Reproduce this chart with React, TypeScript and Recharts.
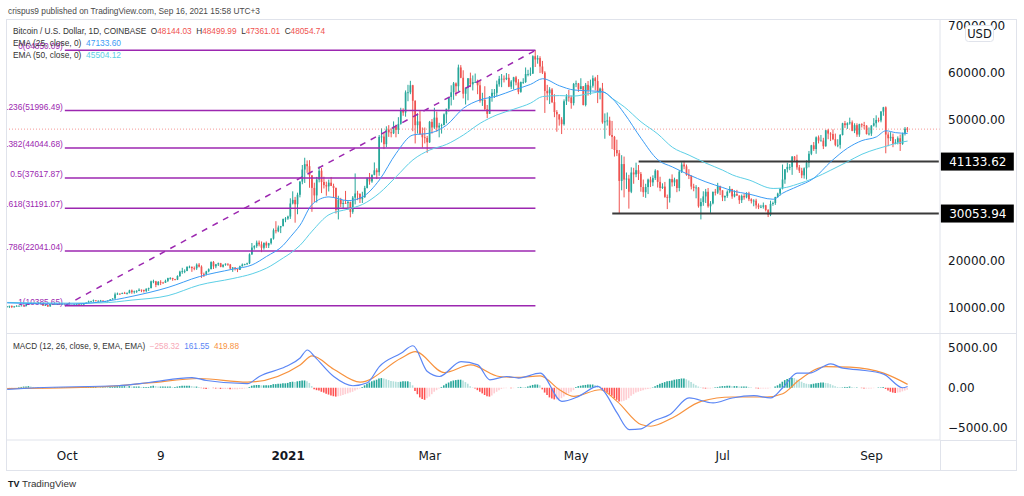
import React from "react";
import {
  Bar,
  Cell,
  ComposedChart,
  Line,
  ReferenceLine,
  XAxis,
  YAxis,
} from "recharts";

// BTC/USD daily candles (Coinbase), Sep 6 2020 .. Sep 16 2021, in thousands of USD
const firstOpenK = 10.1;
const closeK = [
  10.28,10.37,10.13,10.24,10.37,10.40,10.44,10.33,10.68,10.79,10.95,10.94,10.93,11.08,10.92,10.42,10.53,10.24,10.74,10.69,10.73,10.77,10.70,10.84,10.78,
  10.62,10.57,10.55,10.67,10.79,10.60,10.67,10.92,11.06,11.30,11.38,11.54,11.43,11.43,11.50,11.32,11.36,11.50,11.75,11.92,12.82,12.97,12.93,13.12,13.04,13.07,13.65,13.28,13.46,13.56,13.80,
  13.76,13.55,14.03,14.15,15.59,15.59,14.83,15.48,15.33,15.30,15.70,16.28,16.32,16.07,15.96,16.73,17.66,17.78,17.82,18.68,18.71,18.42,18.37,19.16,18.73,17.15,17.14,17.72,18.18,19.70,
  18.79,19.22,19.45,18.70,19.15,19.36,19.17,18.32,18.55,18.26,18.04,18.81,19.17,19.27,19.44,21.35,22.80,23.11,23.85,23.48,22.75,23.82,23.25,23.72,24.71,26.49,26.28,27.08,27.36,28.88,28.98,
  29.41,32.20,32.96,32.03,34.05,36.86,39.43,40.58,40.15,38.19,35.52,33.92,37.31,39.19,36.78,36.11,35.84,36.63,35.94,35.51,30.83,33.01,32.08,32.28,32.26,32.50,30.41,33.45,34.32,34.28,33.11,
  33.54,35.51,37.66,36.90,38.30,39.27,38.87,46.40,46.47,44.84,47.97,47.37,47.17,48.59,47.91,49.16,52.12,51.58,55.89,55.90,57.41,54.09,48.89,49.70,47.02,46.31,46.16,45.24,
  49.60,48.40,50.50,48.40,48.80,48.90,51.20,52.40,54.90,55.90,57.80,57.20,61.20,59.00,55.60,56.90,58.90,57.60,58.10,58.10,57.40,54.10,54.30,52.30,51.30,55.00,55.80,55.80,57.60,58.80,58.80,
  58.70,59.00,57.10,58.20,59.10,58.00,56.00,58.10,58.10,59.80,59.80,59.90,63.60,62.90,63.20,61.40,60.10,56.20,55.70,56.50,53.80,51.70,51.20,50.10,49.10,54.00,55.00,54.80,53.60,57.70,
  57.80,56.60,57.20,53.20,57.50,56.40,57.30,58.90,58.30,55.80,56.70,49.50,49.70,49.90,46.80,46.40,43.60,42.90,37.00,40.60,37.30,37.50,34.70,38.80,38.40,39.30,38.50,35.70,34.60,35.70,37.30,
  36.70,37.60,39.20,36.80,35.50,35.80,33.60,33.40,37.40,36.70,37.30,35.50,39.00,40.50,40.10,38.30,38.10,35.80,35.50,35.60,31.60,32.50,33.70,34.70,31.60,32.20,34.70,34.50,35.90,35.00,
  33.50,33.80,34.70,35.30,33.70,34.20,33.90,32.90,33.80,33.50,34.30,33.10,32.70,32.80,31.80,31.40,31.50,31.80,30.80,29.80,32.10,32.30,33.60,34.30,35.40,37.30,39.50,40.00,40.00,42.20,41.50,
  39.90,39.20,38.20,39.70,40.90,42.80,44.60,43.80,46.30,45.60,45.60,44.40,47.80,47.10,47.00,45.90,44.70,44.70,46.80,49.30,48.90,49.30,49.50,47.70,48.90,46.90,49.10,48.90,48.80,47.00,47.10,
  48.80,49.30,50.00,49.90,51.80,52.70,46.90,46.10,46.40,44.90,45.20,46.10,44.90,47.10,48.14403,48.05474,
];
const highK = [
  10.35,10.40,10.44,10.35,10.50,10.42,10.48,10.58,10.78,10.94,11.10,11.04,11.03,11.18,11.10,10.99,10.56,10.56,10.77,10.76,10.78,10.80,10.95,10.86,10.85,
  10.92,10.67,10.60,10.68,10.80,10.80,10.70,10.94,11.10,11.49,11.43,11.72,11.56,11.56,11.63,11.51,11.40,11.50,11.80,12.00,13.20,13.20,13.02,13.19,13.35,13.25,13.80,13.85,13.62,13.70,14.10,
  13.86,13.82,14.07,14.25,15.75,15.95,15.70,15.65,15.84,15.48,15.96,16.36,16.48,16.35,16.12,16.88,17.86,18.48,18.15,18.80,18.95,18.72,18.77,19.42,19.49,19.00,17.46,17.85,18.35,19.86,
  19.92,19.31,19.59,19.53,19.18,19.41,19.40,19.30,18.64,18.60,18.29,18.94,19.40,19.35,19.57,21.56,23.77,23.30,24.29,24.30,24.10,23.84,24.10,23.80,24.79,26.87,28.42,27.50,27.41,28.99,29.30,
  29.60,33.30,34.79,33.60,34.50,36.94,40.40,41.95,41.38,41.43,38.26,36.63,37.86,40.10,39.75,37.90,36.85,37.30,37.85,36.42,35.60,33.84,33.40,32.94,34.88,32.92,32.60,33.78,38.60,34.90,34.30,
  34.70,35.96,37.70,38.70,38.40,40.95,39.70,46.80,48.20,47.30,48.65,48.90,48.20,49.70,49.00,50.60,52.60,52.50,56.30,57.50,58.35,57.50,54.20,51.40,52.00,48.40,48.40,46.60,
  49.80,50.20,52.60,51.80,49.40,49.20,51.40,52.40,54.90,57.40,58.10,58.00,61.80,61.70,60.60,56.90,58.90,60.10,59.50,59.90,58.60,58.40,55.80,57.20,53.20,55.10,56.60,56.60,58.40,59.40,59.80,
  59.50,60.00,59.80,58.50,59.20,59.40,58.70,58.20,58.90,61.20,60.70,61.20,63.80,64.90,63.80,63.60,62.60,60.40,57.50,57.00,56.80,55.50,52.10,51.20,50.60,54.40,55.50,56.40,55.20,57.90,
  58.40,57.90,58.90,57.20,57.90,58.30,58.60,59.50,59.20,59.60,56.90,57.90,51.40,51.60,50.70,49.80,46.60,45.80,43.60,42.50,42.20,38.80,38.30,39.90,39.80,40.90,40.40,38.90,37.30,36.40,37.50,
  37.90,38.20,39.50,39.30,37.90,36.50,36.80,34.10,37.50,38.40,37.70,37.40,39.30,41.00,41.30,40.50,39.50,38.20,36.40,36.10,35.70,33.30,34.80,35.30,35.50,32.70,34.70,35.30,36.60,36.00,
  35.00,33.90,35.00,35.90,35.30,35.00,35.10,33.90,34.10,34.30,34.60,34.70,33.30,33.10,33.20,32.20,31.90,32.40,31.90,31.00,32.80,32.60,33.60,34.50,35.40,40.50,39.50,40.90,40.60,42.30,42.30,
  42.60,40.40,39.80,39.90,41.40,43.40,44.70,45.30,46.50,46.70,46.80,46.20,47.90,48.10,47.40,48.00,47.10,45.90,47.00,49.40,49.80,49.50,50.50,49.90,49.30,49.30,49.20,49.30,49.60,48.90,48.40,
  48.90,50.40,51.00,50.50,51.90,52.80,52.90,47.40,47.40,47.10,45.90,46.50,46.90,47.30,48.50,48.49999,
];
const lowK = [
  10.00,9.90,9.90,10.00,10.20,10.20,10.30,10.20,10.24,10.64,10.67,10.74,10.80,10.89,10.82,10.36,10.36,10.14,10.20,10.60,10.64,10.60,10.65,10.64,10.67,
  10.50,10.38,10.50,10.50,10.60,10.55,10.59,10.53,10.83,11.02,11.28,11.23,11.33,11.29,11.25,11.24,11.30,11.32,11.40,11.70,11.90,12.71,12.72,12.88,12.90,12.79,13.05,12.94,12.98,13.13,13.50,
  13.29,13.21,13.27,13.54,14.10,15.19,14.35,14.72,14.80,15.10,15.27,15.45,15.96,15.71,15.80,15.87,16.55,17.21,17.34,17.76,18.38,17.62,17.96,18.03,18.56,16.33,16.52,16.88,17.52,18.18,
  18.22,18.40,18.86,18.60,18.53,18.92,18.90,18.20,17.62,17.91,17.56,18.03,18.74,19.00,19.06,19.28,21.23,22.36,22.75,23.06,21.82,22.36,22.72,22.70,23.44,24.50,25.82,26.07,25.88,27.33,28.20,
  28.70,28.90,32.00,28.10,29.90,33.50,36.30,36.57,38.72,35.55,30.42,32.50,32.40,36.70,34.41,35.40,33.85,34.75,35.90,33.40,30.06,28.80,31.40,31.00,32.10,30.83,29.24,30.00,32.00,32.90,32.30,
  32.30,33.40,35.40,36.20,36.60,38.20,37.40,38.10,45.20,43.80,44.20,46.40,46.30,47.00,46.30,47.00,49.00,50.90,50.70,54.00,55.50,47.60,45.00,47.10,46.80,44.10,45.00,43.00,
  45.10,47.10,48.10,47.50,46.30,47.10,48.90,49.30,51.80,53.10,54.30,55.10,56.10,58.90,54.60,53.30,54.20,57.00,56.30,57.90,55.50,53.70,53.00,52.00,50.40,51.30,53.90,54.70,55.00,57.10,57.00,
  58.00,58.50,57.00,56.60,56.50,57.40,55.50,55.80,57.70,57.90,59.30,59.40,59.80,61.30,62.00,60.00,59.80,51.50,54.20,53.40,53.60,50.60,47.50,48.80,47.00,48.80,53.20,53.90,52.40,53.10,
  57.00,56.00,56.50,53.10,52.90,55.20,55.40,56.90,56.30,53.60,54.40,49.20,46.00,48.80,46.60,43.80,42.20,42.30,30.00,35.00,33.50,35.30,31.10,34.40,36.40,37.80,37.20,34.70,33.60,33.40,34.20,
  35.70,35.90,37.20,35.60,34.80,35.30,33.40,31.00,32.40,35.80,35.90,34.60,34.80,38.70,39.50,38.10,37.40,35.20,34.80,33.30,31.30,28.80,31.70,32.30,31.30,30.20,32.00,33.90,34.20,34.00,
  32.70,32.70,33.40,34.40,33.20,33.50,33.80,32.10,32.30,33.00,33.30,32.70,32.20,31.60,31.10,31.00,31.20,31.10,30.50,29.30,29.50,31.70,31.90,33.40,33.90,35.20,36.40,38.80,39.30,38.30,41.10,
  39.40,38.70,37.60,37.50,37.30,39.90,42.50,43.40,42.80,45.00,45.50,43.80,44.30,45.90,45.50,45.70,44.40,44.20,43.90,46.70,48.30,48.10,49.00,47.60,47.20,46.40,46.40,48.40,48.00,46.90,46.70,
  46.60,48.60,48.40,49.50,49.50,50.90,42.90,44.40,45.50,44.20,44.80,44.80,43.40,44.70,46.70,47.36101,
];

// MACD histogram, one bar per day, in hundreds
const macdHistH = [
  -1,-1,-0.5,0,0,0.5,1,1.5,1.5,2,1.5,1,0.5,0.5,0,-0.5,-0.5,-0.5,0,0,0.5,0.5,0.5,0.5,0.5,
  0.5,0.5,0.5,0.5,0.5,0.5,0.5,1,1,1,1,1,1,0.5,0.5,0.5,0.5,0.5,1,1,2,2,2,2,2,1.5,2,1.5,1.5,1.5,1.5,
  1,1,1,1,2,2.5,2,1.5,1.5,1.5,1.5,1.5,1.5,1,1,1.5,2,2.5,2.5,2.5,2.5,2,1.5,1.5,1,-0.5,-1,-1.5,-1,0,
  -0.5,-1,-1,-1.5,-1.5,-1.5,-1.5,-2,-2,-2,-2,-1.5,-1.5,-1,-0.5,1,2.5,3,3.5,3.5,3,3,3,3,3.5,4.5,4.5,5,5,5.5,5.5,
  6,7,7.5,7,8,8.5,9,9,8,6,2,-2,-3,-3.5,-5,-6,-7.5,-8.5,-9.5,-10.5,-11,-10.5,-10,-9,-8,-7,-6,-5,-3.5,-2,-1,
  1,3,5,6.5,8,9,10,11.5,12,11.5,10.5,9.5,8.5,8,7.5,7,7.5,8,8,8,7,3,-4,-8,-12,-14,-15,-13,
  -11,-8,-5,-3,-1,1,3,5,6.5,8,9,9.5,10,10,9,7,5,2,0.5,-1,-3,-5,-7,-9,-10.5,-11,-9.5,-7,-5,-3,-1.5,
  -0.5,-0.5,0,-0.5,-0.5,0,0.5,1,0.5,0.5,1.5,2.5,3.5,4,4,3,-2,-6,-9,-12,-13.5,-14.5,-14.5,-14,-13,-11,-9,-7,-5,-3,
  1,2,2.5,3,3.5,4,4,4,3.5,3,2,-2,-4,-6,-8,-10,-13,-15,-17,-17,-16,-15,-13,-10,-8,-6,-5,-4,-3,-2,-1.5,
  -1,0.5,2,3.5,5,6,7,8,8.5,9,10,10.5,11,11.5,11.5,10.5,9,7,5,3,1.5,0.5,-0.5,-1,-1,-1,-0.5,0.5,1,1.5,
  2,2,2.5,2.5,2,2,2,1.5,1.5,1.5,1.5,1,0.5,0,-0.5,-1,-1,-1,-1,-1,-0.5,0,1.5,3,5,7.5,9.5,11,12,12.5,12,
  10,9,7.5,6,5,4.5,4.5,5,5.5,6,6.5,6.5,6,5.5,4.5,3,2,1,0.5,0.5,1,1,1.5,1,0.5,0.5,0,-0.5,-1,-1,-1,
  -1,-0.5,0,0.5,0.5,1,-1.5,-3.5,-5,-6,-6.5,-6,-5.5,-4.5,-3.5,-2.5832,
];

// EMA 25 / EMA 50 (thousands)
const emaDates = [
  "2020-09-06","2020-10-01","2020-10-15","2020-10-28","2020-11-12","2020-11-25","2020-12-09","2020-12-17",
  "2020-12-23","2020-12-30","2021-01-02","2021-01-06","2021-01-11","2021-01-18","2021-01-26","2021-02-01",
  "2021-02-08","2021-02-15","2021-02-22","2021-03-01","2021-03-08","2021-03-15","2021-03-22","2021-03-29",
  "2021-04-05","2021-04-12","2021-04-17","2021-04-24","2021-04-30","2021-05-07","2021-05-12","2021-05-16",
  "2021-05-21","2021-05-28","2021-06-04","2021-06-10","2021-06-17","2021-06-24","2021-07-01","2021-07-05",
  "2021-07-12","2021-07-22","2021-07-26","2021-08-01","2021-08-08","2021-08-15","2021-08-22","2021-08-28",
  "2021-09-03","2021-09-07","2021-09-11","2021-09-16",
];
const ema25K = [
  11.0,10.75,11.2,12.4,14.3,16.6,18.2,19.1,20.9,23.3,25.1,27.6,32.0,33.6,32.8,33.6,
  37.2,42.9,46.8,47.2,48.9,52.5,54.3,55.1,56.4,57.6,58.8,57.3,56.4,56.2,56.0,54.6,
  51.4,46.1,41.5,40.0,38.3,36.8,35.6,34.9,34.2,33.1,34.4,35.8,37.6,41.1,44.0,45.6,
  46.4,47.7,47.3,47.1336,
];
const ema50K = [
  11.1,10.95,11.0,11.6,12.55,14.8,16.2,17.2,18.4,20.6,21.6,23.3,26.3,29.8,31.0,32.0,
  34.4,37.9,41.5,43.6,44.8,46.8,49.3,51.1,52.3,53.6,55.0,55.2,55.1,55.7,56.0,54.6,
  52.8,49.6,47.0,44.2,42.5,40.8,39.3,38.3,37.2,35.4,35.5,36.3,37.6,39.3,41.1,42.7,
  43.8,44.4,45.0,45.50412,
];

// MACD (12, 26, 9) line and signal
const macdDates = [
  "2020-09-06","2020-09-18","2020-10-22","2020-11-04","2020-11-22","2020-11-28","2020-12-15","2020-12-20",
  "2020-12-31","2021-01-06","2021-01-09","2021-01-12","2021-01-20","2021-01-28","2021-02-03","2021-02-08",
  "2021-02-17","2021-02-22","2021-02-28","2021-03-05","2021-03-14","2021-03-21","2021-03-26","2021-04-02",
  "2021-04-07","2021-04-16","2021-04-25","2021-05-02","2021-05-10","2021-05-12","2021-05-18","2021-05-23",
  "2021-05-28","2021-06-02","2021-06-09","2021-06-17","2021-06-27","2021-07-05","2021-07-14","2021-07-21",
  "2021-07-26","2021-08-01","2021-08-06","2021-08-15","2021-08-20","2021-08-27","2021-09-06","2021-09-14",
  "2021-09-16",
];
const macdVals = [
  -200,0,250,650,1270,900,500,1400,2630,3700,4690,3870,1400,250,620,2630,
  4280,5220,2010,1400,3250,2840,990,1400,1200,1810,-1690,-1070,160,-250,-3130,-5190,
  -5100,-4160,-3330,-1270,-1890,-1270,-990,-1270,0,1810,1810,2960,2430,2220,1700,0,
  161.55,
];
const signalDates = [
  "2020-09-06","2020-10-14","2020-11-04","2020-11-25","2020-12-15","2021-01-06","2021-01-11","2021-01-20",
  "2021-01-31","2021-02-17","2021-02-23","2021-03-07","2021-03-18","2021-03-30","2021-04-07","2021-04-16",
  "2021-04-24","2021-04-30","2021-05-11","2021-05-18","2021-05-28","2021-06-01","2021-06-10","2021-06-22",
  "2021-07-05","2021-07-19","2021-07-26","2021-08-02","2021-08-13","2021-08-23","2021-09-06","2021-09-16",
];
const signalVals = [
  -100,100,600,1150,700,2840,3950,2300,700,3660,4480,1890,2840,1400,1300,1480,
  -250,-1070,-250,-1690,-4570,-4780,-3750,-1690,-1150,-1150,-740,990,2630,2550,1810,419.88,
];

const tickDates = ["2020-10-01", "2020-11-09", "2021-01-01", "2021-03-01", "2021-05-01", "2021-07-01", "2021-09-01"];
const tickLabels = ["Oct", "9", "2021", "Mar", "May", "Jul", "Sep"];
const priceTicks = [10000, 20000, 50000, 60000, 70000];
const macdTicks = [5000, 0, -5000];

const fibTags = ["0", ".236", ".382", "0.5", ".618", ".786", "1"];
const fibPrices = [64850.09, 51996.49, 44044.68, 37617.87, 31191.07, 22041.04, 10385.65];
const fibFrom = "2020-09-30";
const fibTo = "2021-04-14";
const levelPrices = [41133.62, 30053.94];
const levelFrom = ["2021-05-27", "2021-05-16"];
const lastClose = 48054.74;

const UP = "#26a69a";
const DOWN = "#ef5350";
const FIB = "#9c27b0";
const EMA25_C = "#3b9cf5";
const EMA50_C = "#5ccfe6";
const MACD_C = "#5b86f5";
const SIG_C = "#f7923e";
const TXT = "#131722";
const AX = "DejaVu Sans";
const LG = "Liberation Sans";
const NB = "\u00a0";

const SLOTS = 389; // days on the axis, incl. empty space after the last candle
const DAY = 86400000;
const START = Date.UTC(2020, 8, 6);
const dayKey = (i: number) => new Date(START + i * DAY).toISOString().slice(0, 10);
const lastDay = dayKey(SLOTS - 1);

const toMap = (dates: string[], vals: number[], k: number) =>
  new Map(dates.map((d, j) => [d, vals[j] * k] as [string, number]));
const e25Map = toMap(emaDates, ema25K, 1000);
const e50Map = toMap(emaDates, ema50K, 1000);
const macdMap = toMap(macdDates, macdVals, 1);
const sigMap = toMap(signalDates, signalVals, 1);

const rows = Array.from({ length: SLOTS }, (_, i) => {
  const d = dayKey(i);
  const row: any = { d, e25: e25Map.get(d), e50: e50Map.get(d), macd: macdMap.get(d), sig: sigMap.get(d) };
  if (i < closeK.length) {
    const o = (i === 0 ? firstOpenK : closeK[i - 1]) * 1000;
    const c = closeK[i] * 1000;
    const h = Math.max(highK[i] * 1000, o, c);
    const l = Math.min(lowK[i] * 1000, o, c);
    row.o = o;
    row.c = c;
    row.h = h;
    row.l = l;
    row.hl = [l, h];
    row.hist = macdHistH[i] * 100;
  }
  return row;
});

const histColor = (i: number) => {
  const v = rows[i].hist;
  if (v == null) return "transparent";
  const prev = i > 0 ? rows[i - 1].hist : v;
  if (v >= 0) return v >= prev ? "#26a69a" : "#b2dfdb";
  return v < prev ? "#ff5252" : "#ffcdd2";
};

const Candle = (props: any) => {
  const { x, y, width, height, payload } = props;
  if (!payload || payload.o == null || !isFinite(y) || !isFinite(height)) return null;
  const { o, c, h, l } = payload;
  const span = h - l || 1;
  const toY = (v: number) => y + ((h - v) / span) * height;
  const color = c >= o ? UP : DOWN;
  const cx = x + width / 2;
  const top = toY(Math.max(o, c));
  const bot = toY(Math.min(o, c));
  return (
    <g>
      <line x1={cx} x2={cx} y1={y} y2={y + height} stroke={color} strokeWidth={1} />
      <rect x={cx - 0.85} y={top} width={1.7} height={Math.max(bot - top, 0.8)} fill={color} />
    </g>
  );
};

const fibLabel = (text: string) => (p: any) => {
  const vb = p.viewBox || {};
  return (
    <text
      x={vb.x - 2}
      y={vb.y - 1}
      textAnchor="end"
      fontSize={8.4}
      fontFamily={LG}
      fill={FIB}
      textLength={text.length * 4.05}
      lengthAdjust="spacingAndGlyphs"
    >
      {text}
    </text>
  );
};

const levelTag = (text: string) => (p: any) => {
  const vb = p.viewBox || {};
  const x0 = vb.x + vb.width + 2;
  return (
    <g>
      <rect x={x0} y={vb.y - 9} width={73} height={18} fill="#000" />
      <text x={x0 + 37} y={vb.y + 4.5} textAnchor="middle" fontSize={12} fontFamily={AX} fill="#fff">
        {text}
      </text>
    </g>
  );
};

const DateTick = (props: any) => {
  const { x, y, payload } = props;
  const idx = tickDates.indexOf(payload.value);
  const label = idx >= 0 ? tickLabels[idx] : "";
  return (
    <text x={x} y={y} dy="0.71em" textAnchor="middle" fontSize={12} fontFamily={AX} fill={TXT} fontWeight={label === "2021" ? 700 : 400}>
      {label}
    </text>
  );
};

const T = (p: { x: number; y: number; w: number; c?: string; s?: number; children: React.ReactNode }) => (
  <text x={p.x} y={p.y} fontSize={p.s || 8.4} fontFamily={LG} fill={p.c || "#333"} textLength={p.w} lengthAdjust="spacingAndGlyphs">
    {p.children}
  </text>
);

export default function App() {
  const macdFmt = (v: number) => (v < 0 ? "\u2212" : "") + Math.abs(v).toFixed(2);
  return (
    <div style={{ position: "absolute", left: 0, top: 0, width: 1024, height: 496, background: "#fff", overflow: "hidden" }}>
      <div style={{ position: "absolute", left: 0, top: 20 }}>
        <ComposedChart width={1017} height={313} data={rows} margin={{ top: 0, right: 0, bottom: 0, left: 6 }}>
          <XAxis dataKey="d" hide allowDuplicatedCategory={false} />
          <YAxis
            orientation="right"
            width={77}
            domain={[4580, 71320]}
            ticks={priceTicks}
            interval={0}
            allowDataOverflow
            tickFormatter={(v: number) => v.toFixed(2)}
            tick={{ fontSize: 12, fill: TXT, fontFamily: AX }}
            tickLine={false}
            axisLine={{ stroke: "#e0e3eb" }}
          />
          <ReferenceLine y={lastClose} stroke={DOWN} strokeDasharray="1 2" strokeOpacity={0.6} />
          {fibPrices.map((p, k) => (
            <ReferenceLine
              key={"fib" + k}
              segment={[{ x: fibFrom, y: p }, { x: fibTo, y: p }]}
              stroke={FIB}
              strokeWidth={1.5}
              label={fibLabel(`${fibTags[k]}(${p.toFixed(2)})`)}
            />
          ))}
          <ReferenceLine
            segment={[{ x: fibFrom, y: fibPrices[6] }, { x: fibTo, y: fibPrices[0] }]}
            stroke={FIB}
            strokeWidth={1.5}
            strokeDasharray="6 6"
          />
          {levelPrices.map((p, k) => (
            <ReferenceLine
              key={"lvl" + k}
              segment={[{ x: levelFrom[k], y: p }, { x: lastDay, y: p }]}
              stroke="#3a3a3a"
              strokeWidth={2}
              label={levelTag(p.toFixed(2))}
            />
          ))}
          <Bar dataKey="hl" barSize={2} shape={<Candle />} isAnimationActive={false} />
          <Line dataKey="e50" type="monotone" stroke={EMA50_C} strokeWidth={1} dot={false} connectNulls isAnimationActive={false} />
          <Line dataKey="e25" type="monotone" stroke={EMA25_C} strokeWidth={1} dot={false} connectNulls isAnimationActive={false} />
        </ComposedChart>
      </div>

      <div style={{ position: "absolute", left: 0, top: 334 }}>
        <ComposedChart width={1017} height={136} data={rows} margin={{ top: 0, right: 0, bottom: 0, left: 6 }}>
          <XAxis
            dataKey="d"
            allowDuplicatedCategory={false}
            ticks={tickDates}
            interval={0}
            height={30}
            tickLine={false}
            tickMargin={5}
            axisLine={{ stroke: "#e0e3eb" }}
            tick={<DateTick />}
          />
          <YAxis
            orientation="right"
            width={77}
            domain={[-6491, 6677]}
            ticks={macdTicks}
            interval={0}
            allowDataOverflow
            tickFormatter={macdFmt}
            tick={{ fontSize: 12, fill: TXT, fontFamily: AX }}
            tickLine={false}
            axisLine={{ stroke: "#e0e3eb" }}
          />
          <Bar dataKey="hist" barSize={1.6} isAnimationActive={false}>
            {rows.map((_, i) => (
              <Cell key={i} fill={histColor(i)} />
            ))}
          </Bar>
          <Line dataKey="sig" type="monotone" stroke={SIG_C} strokeWidth={1.2} dot={false} connectNulls isAnimationActive={false} />
          <Line dataKey="macd" type="monotone" stroke={MACD_C} strokeWidth={1.2} dot={false} connectNulls isAnimationActive={false} />
        </ComposedChart>
      </div>

      <svg width={1024} height={496} style={{ position: "absolute", left: 0, top: 0, pointerEvents: "none" }}>
        <rect x={6.5} y={19.5} width={1010} height={451} fill="none" stroke="#e0e3eb" />
        <line x1={6} x2={1017} y1={333.5} y2={333.5} stroke="#e0e3eb" />
        <line x1={940} x2={1017} y1={440.5} y2={440.5} stroke="#e0e3eb" />
        <line x1={940.5} x2={940.5} y1={440} y2={471} stroke="#e0e3eb" />

        <T x={8} y={14} w={252} s={8.6} c="#4a4a4a">crispus9 published on TradingView.com, Sep 16, 2021 15:58 UTC+3</T>

        <T x={13} y={33.5} w={312}>
          {`Bitcoin / U.S. Dollar, 1D, COINBASE${NB}${NB}O`}
          <tspan fill={DOWN}>48144.03</tspan>
          {`${NB}${NB}H`}
          <tspan fill={DOWN}>48499.99</tspan>
          {`${NB}${NB}L`}
          <tspan fill={DOWN}>47361.01</tspan>
          {`${NB}${NB}C`}
          <tspan fill={DOWN}>48054.74</tspan>
        </T>

        <T x={13} y={45.5} w={108}>
          {`EMA (25, close, 0)${NB}${NB}`}
          <tspan fill={EMA25_C}>47133.60</tspan>
        </T>
        <T x={13} y={57.5} w={108}>
          {`EMA (50, close, 0)${NB}${NB}`}
          <tspan fill={EMA50_C}>45504.12</tspan>
        </T>

        <T x={13} y={349} w={226}>
          {`MACD (12, 26, close, 9, EMA, EMA)${NB}${NB}`}
          <tspan fill="#f7a8b6">{"\u2212258.32"}</tspan>
          {`${NB}${NB}`}
          <tspan fill={MACD_C}>161.55</tspan>
          {`${NB}${NB}`}
          <tspan fill={SIG_C}>419.88</tspan>
        </T>

        <rect x={965.5} y={25.5} width={28} height={16} rx={3} fill="#fff" stroke="#e0e3eb" />
        <text x={979.5} y={37.5} textAnchor="middle" fontSize={11.5} fontFamily={AX} fill={TXT}>USD</text>

        <text x={8} y={487} fontSize={9} fontWeight={700} fontFamily={LG} fill={TXT}>TV</text>
        <T x={22} y={487} w={54} s={8.6} c="#333">TradingView</T>
      </svg>
    </div>
  );
}
